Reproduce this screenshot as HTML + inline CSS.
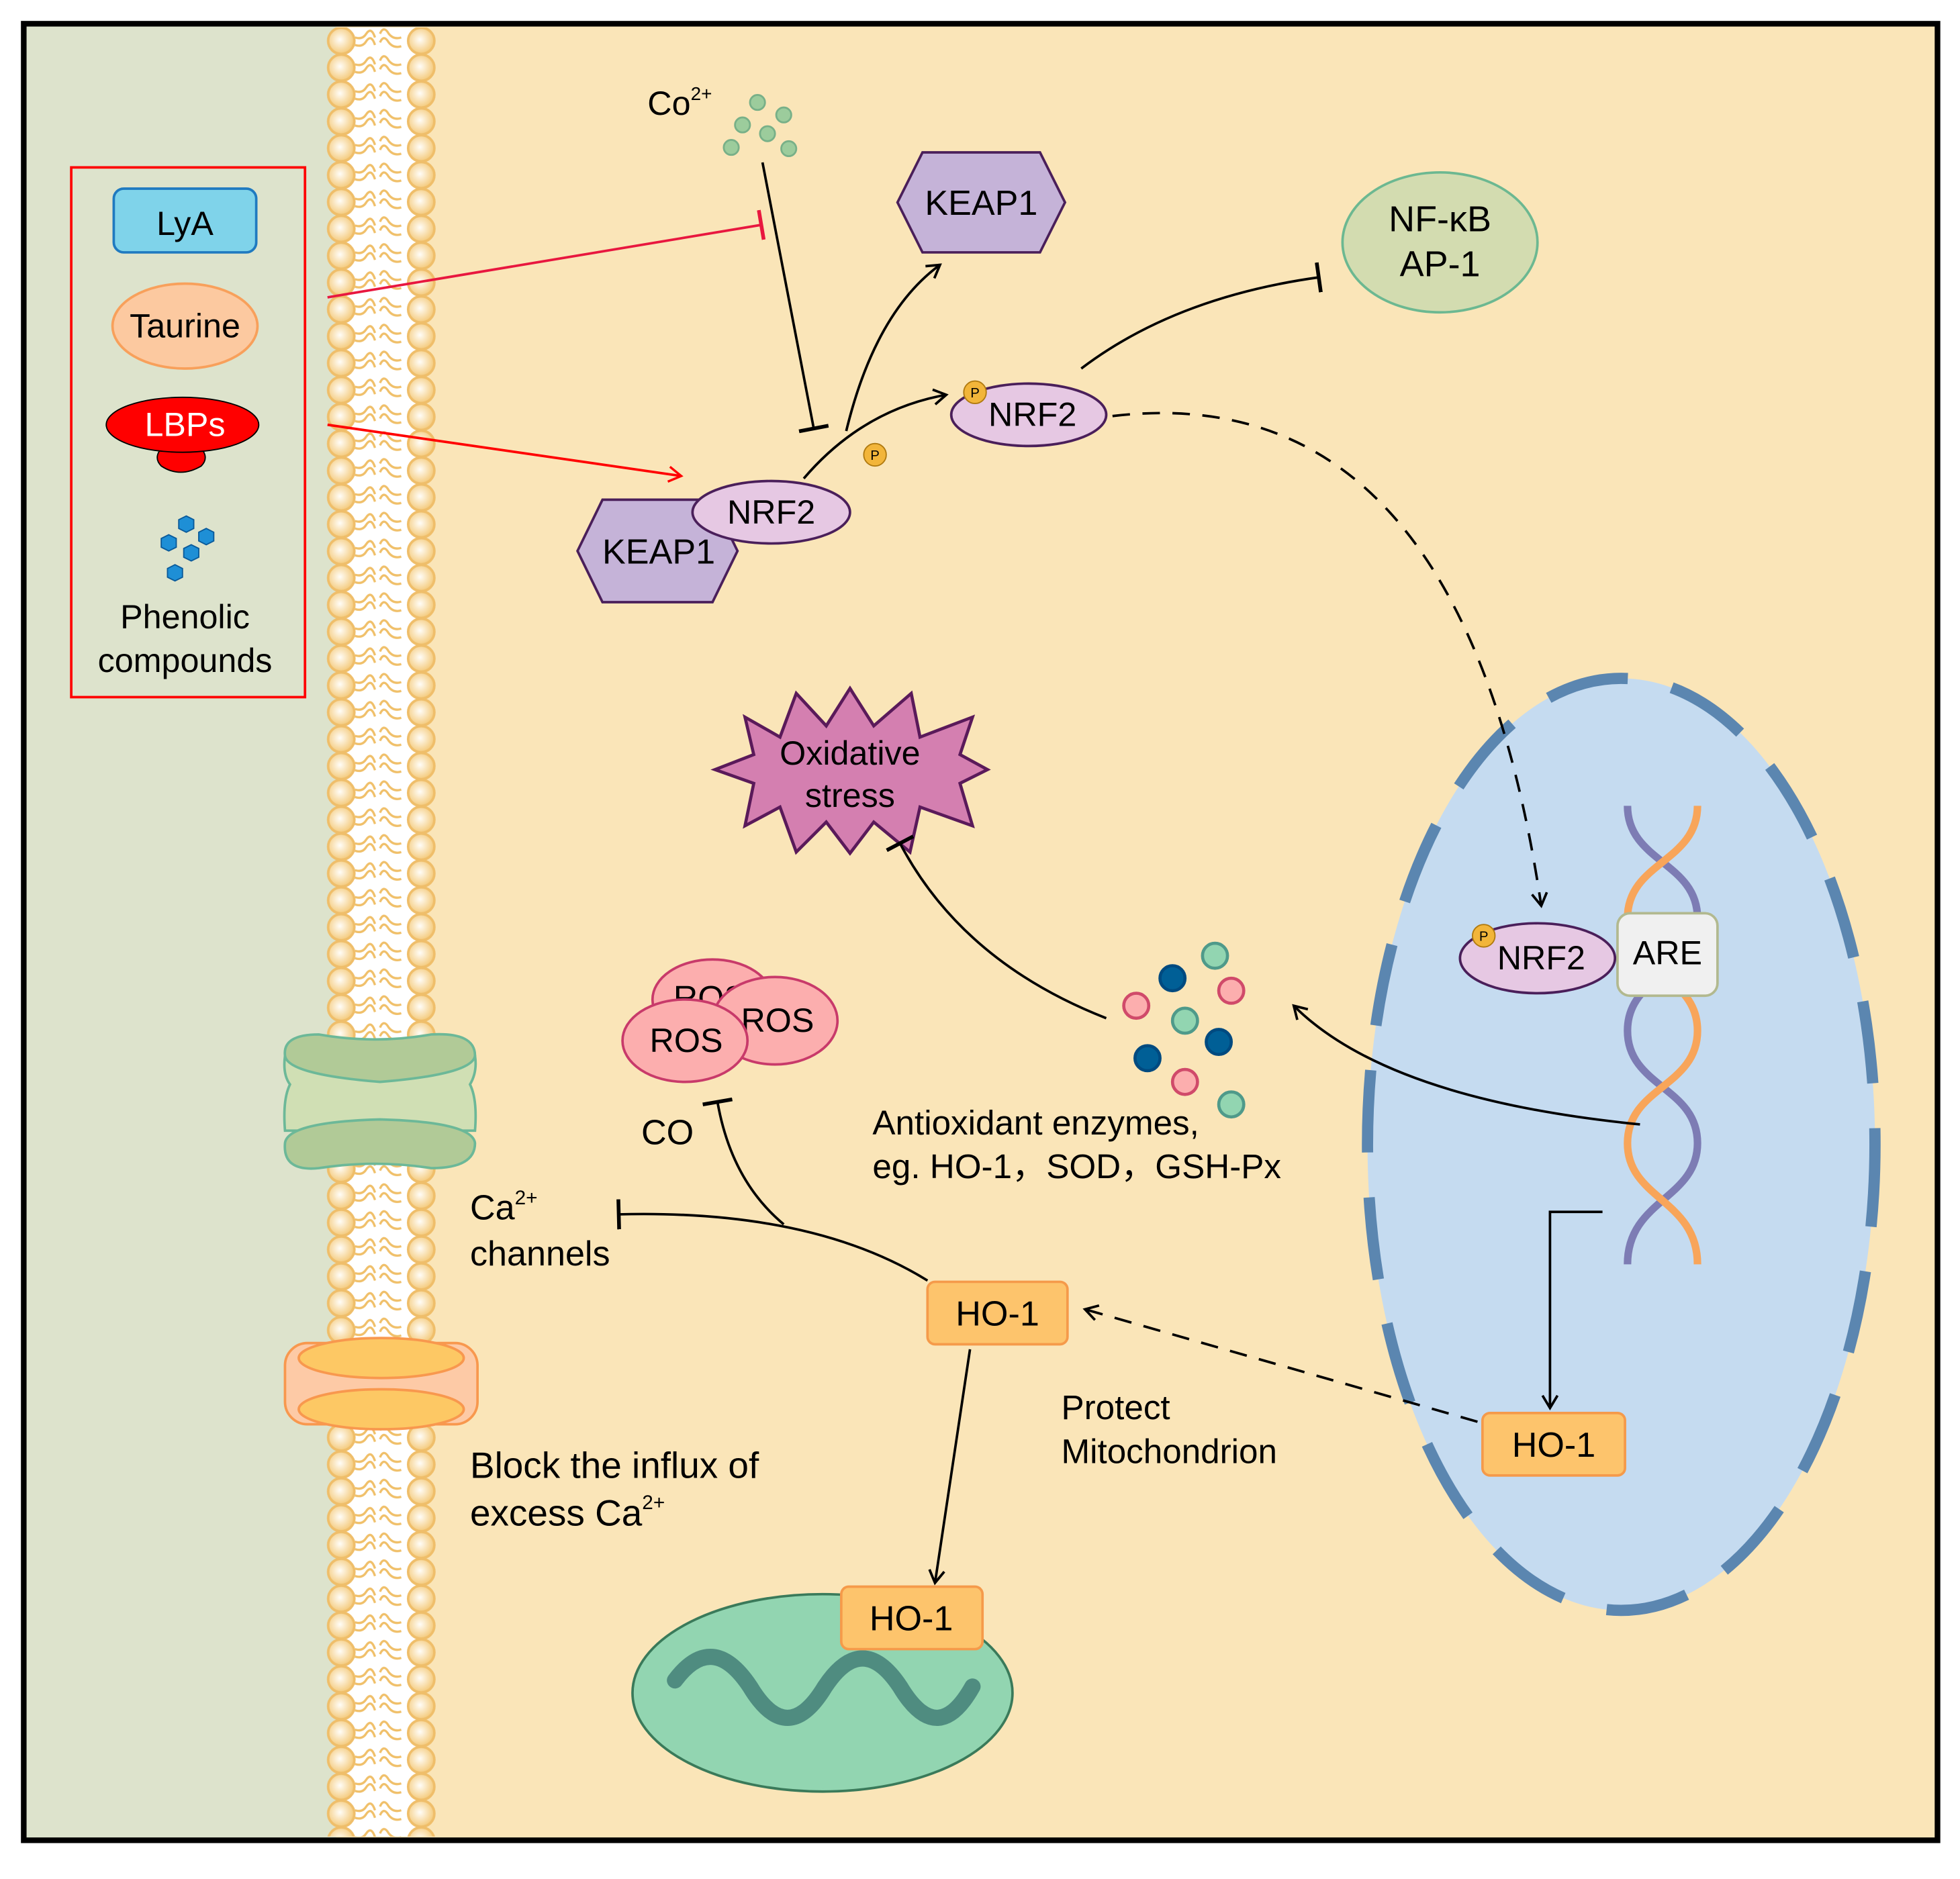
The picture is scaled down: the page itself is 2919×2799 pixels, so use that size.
<!DOCTYPE html>
<html><head><meta charset="utf-8"><style>
html,body{margin:0;padding:0;background:#fff}
svg{display:block}
text{font-family:"Liberation Sans","Noto Sans CJK SC",sans-serif;fill:#000}
</style></head><body>
<svg width="2919" height="2799" viewBox="0 0 1568 1504" preserveAspectRatio="none" xmlns="http://www.w3.org/2000/svg">
<defs>
<radialGradient id="hg" cx="0.45" cy="0.45" r="0.6"><stop offset="0" stop-color="#fffdf8"/><stop offset="1" stop-color="#f3c56f"/></radialGradient>
<pattern id="mem" x="255" y="22" width="96" height="21.5" patternUnits="userSpaceOnUse">
<rect x="14" y="0" width="66" height="21.5" fill="#fff"/>
<path d="M29,8 q6,2 9,-3 q4,-6 7,3 M49,5 q3,-7 7,0 q4,5 10,3 M29,14 q6,2 9,-3 q4,-6 7,3 M49,12 q3,-7 7,0 q4,5 10,3" fill="none" stroke="#f0c06a" stroke-width="1.8"/>
<circle cx="18" cy="10.7" r="10.5" fill="url(#hg)" stroke="#efbe6a" stroke-width="2"/>
<circle cx="82" cy="10.7" r="10.5" fill="url(#hg)" stroke="#efbe6a" stroke-width="2"/>
</pattern>
<marker id="oa" markerWidth="14" markerHeight="14" refX="11" refY="7" orient="auto" markerUnits="userSpaceOnUse"><path d="M1,1 L11,7 L1,13" fill="none" stroke="#000" stroke-width="2"/></marker>
<marker id="ra" markerWidth="14" markerHeight="14" refX="11" refY="7" orient="auto" markerUnits="userSpaceOnUse"><path d="M1,1 L11,7 L1,13" fill="none" stroke="#f00" stroke-width="1.8"/></marker>
<marker id="ib" markerWidth="4" markerHeight="24" refX="2" refY="12" orient="auto" markerUnits="userSpaceOnUse"><path d="M2,0 L2,24" stroke="#000" stroke-width="3"/></marker>
<marker id="rib" markerWidth="4" markerHeight="24" refX="2" refY="12" orient="auto" markerUnits="userSpaceOnUse"><path d="M2,0 L2,24" stroke="#e8173f" stroke-width="3"/></marker>
</defs>
<rect x="0" y="0" width="1568" height="1504" fill="#fff"/>
<rect x="19" y="19" width="1531" height="1454" fill="#fae5b8"/>
<rect x="19" y="19" width="250" height="1454" fill="#dde3cc"/>
<rect x="255" y="22" width="96" height="1448" fill="url(#mem)"/>
<rect x="19" y="19" width="1531" height="1454" fill="none" stroke="#000" stroke-width="4.5"/>

<rect x="57" y="134" width="187" height="424" fill="none" stroke="#f00" stroke-width="2"/>
<rect x="91" y="151" width="114" height="51" rx="8" fill="#7fd3ea" stroke="#1f7ac0" stroke-width="2"/>
<text x="148" y="188" font-size="27" text-anchor="middle">LyA</text>
<ellipse cx="148" cy="261" rx="58" ry="34" fill="#fcc9a0" stroke="#f8a05b" stroke-width="2"/>
<text x="148" y="270" font-size="27" text-anchor="middle">Taurine</text>
<path d="M133,355 q-12,10 -4,18 q15,10 32,0 q8,-8 -4,-18z" fill="#f00" stroke="#000" stroke-width="1"/>
<ellipse cx="146" cy="340" rx="61" ry="22" fill="#f00" stroke="#000" stroke-width="1"/>
<text x="148" y="349" font-size="27" text-anchor="middle" style="fill:#fff">LBPs</text>
<g fill="#1e8fd6" stroke="#0a5a9a" stroke-width="1">
<polygon points="149,413 155,416 155,423 149,426 143,423 143,416"/>
<polygon points="165,423 171,426 171,433 165,436 159,433 159,426"/>
<polygon points="135,428 141,431 141,438 135,441 129,438 129,431"/>
<polygon points="153,436 159,439 159,446 153,449 147,446 147,439"/>
<polygon points="140,452 146,455 146,462 140,465 134,462 134,455"/>
</g>
<text x="148" y="503" font-size="27" text-anchor="middle">Phenolic</text>
<text x="148" y="538" font-size="27" text-anchor="middle">compounds</text>

<line x1="262" y1="238" x2="609" y2="180" stroke="#e8173f" stroke-width="2" marker-end="url(#rib)"/>
<line x1="262" y1="340" x2="545" y2="381" stroke="#f00" stroke-width="2" marker-end="url(#ra)"/>

<text x="518" y="92" font-size="27">Co<tspan font-size="15" dy="-12">2+</tspan></text>
<g fill="#9ccc9c" stroke="#78b088" stroke-width="1.5">
<circle cx="606" cy="82" r="6"/><circle cx="594" cy="100" r="6"/><circle cx="627" cy="92" r="6"/><circle cx="614" cy="107" r="6"/><circle cx="585" cy="118" r="6"/><circle cx="631" cy="119" r="6"/>
</g>
<line x1="610" y1="130" x2="651" y2="343" stroke="#000" stroke-width="2" marker-end="url(#ib)"/>

<polygon points="738,122 832,122 852,162 832,202 738,202 718,162" fill="#c5b3d8" stroke="#4a1f5a" stroke-width="2"/>
<text x="785" y="172" font-size="28" text-anchor="middle">KEAP1</text>
<path d="M677,345 Q700,250 752,212" fill="none" stroke="#000" stroke-width="2" marker-end="url(#oa)"/>
<path d="M643,383 Q690,328 757,316" fill="none" stroke="#000" stroke-width="2" marker-end="url(#oa)"/>
<circle cx="700" cy="364" r="9" fill="#f2b53a" stroke="#b07a10" stroke-width="1"/>
<text x="700" y="368" font-size="11" text-anchor="middle">P</text>

<polygon points="482,400 570,400 590,441 570,482 482,482 462,441" fill="#c5b3d8" stroke="#4a1f5a" stroke-width="2"/>
<text x="527" y="451" font-size="28" text-anchor="middle">KEAP1</text>
<ellipse cx="617" cy="410" rx="63" ry="25" fill="#e6c8e3" stroke="#4a1f5a" stroke-width="2"/>
<text x="617" y="419" font-size="27" text-anchor="middle">NRF2</text>

<ellipse cx="823" cy="332" rx="62" ry="25" fill="#e6c8e3" stroke="#4a1f5a" stroke-width="2"/>
<text x="826" y="341" font-size="27" text-anchor="middle">NRF2</text>
<circle cx="780" cy="314" r="9" fill="#f2b53a" stroke="#b07a10" stroke-width="1"/>
<text x="780" y="318" font-size="11" text-anchor="middle">P</text>

<path d="M865,295 Q940,238 1055,222" fill="none" stroke="#000" stroke-width="2" marker-end="url(#ib)"/>
<ellipse cx="1152" cy="194" rx="78" ry="56" fill="#d3dcb0" stroke="#6cb891" stroke-width="2"/>
<text x="1152" y="185" font-size="29" text-anchor="middle">NF-κB</text>
<text x="1152" y="221" font-size="29" text-anchor="middle">AP-1</text>

<ellipse cx="1297" cy="916" rx="203" ry="373" fill="#c5dbf0" stroke="#5b86b0" stroke-width="9" stroke-dasharray="66,36"/>
<path d="M890,333 Q1170,300 1233,725" fill="none" stroke="#000" stroke-width="2" stroke-dasharray="14,10" marker-end="url(#oa)"/>

<path d="M1302,645 C1302,690 1358,690 1358,735 C1358,780 1302,780 1302,825 C1302,870 1358,870 1358,915 C1358,960 1302,960 1302,1012" fill="none" stroke="#7d7cb4" stroke-width="6"/>
<path d="M1358,645 C1358,690 1302,690 1302,735 C1302,780 1358,780 1358,825 C1358,870 1302,870 1302,915 C1302,960 1358,960 1358,1012" fill="none" stroke="#f8a55a" stroke-width="6"/>
<ellipse cx="1230" cy="767" rx="62" ry="28" fill="#e6c8e3" stroke="#4a1f5a" stroke-width="2"/>
<text x="1233" y="776" font-size="27" text-anchor="middle">NRF2</text>
<circle cx="1187" cy="749" r="9" fill="#f2b53a" stroke="#b07a10" stroke-width="1"/>
<text x="1187" y="753" font-size="11" text-anchor="middle">P</text>
<rect x="1294" y="731" width="80" height="66" rx="10" fill="#f0f0f0" stroke="#b2b98f" stroke-width="2"/>
<text x="1334" y="772" font-size="27" text-anchor="middle">ARE</text>

<polygon points="680,551 699,581 729,555 736,590 778,574 768,604 790,616 768,627 778,661 736,646 728,682 699,658 680,683 661,658 637,682 624,646 596,661 603,627 572,616 603,604 596,574 624,590 637,555 661,581" fill="#d47fb0" stroke="#5a1a5a" stroke-width="2.5"/>
<text x="680" y="612" font-size="27" text-anchor="middle">Oxidative</text>
<text x="680" y="646" font-size="27" text-anchor="middle">stress</text>
<path d="M885,815 Q770,770 720,675" fill="none" stroke="#000" stroke-width="2" marker-end="url(#ib)"/>
<path d="M1312,900 Q1110,880 1035,805" fill="none" stroke="#000" stroke-width="2" marker-end="url(#oa)"/>

<g stroke-width="2.5">
<circle cx="938" cy="783" r="10" fill="#005f96" stroke="#004a80"/>
<circle cx="975" cy="834" r="10" fill="#005f96" stroke="#004a80"/>
<circle cx="918" cy="847" r="10" fill="#005f96" stroke="#004a80"/>
<circle cx="972" cy="765" r="10" fill="#92d5b1" stroke="#4f9a8a"/>
<circle cx="948" cy="817" r="10" fill="#92d5b1" stroke="#4f9a8a"/>
<circle cx="985" cy="884" r="10" fill="#92d5b1" stroke="#4f9a8a"/>
<circle cx="909" cy="805" r="10" fill="#fcaeae" stroke="#d04a6a"/>
<circle cx="985" cy="793" r="10" fill="#fcaeae" stroke="#d04a6a"/>
<circle cx="948" cy="866" r="10" fill="#fcaeae" stroke="#d04a6a"/>
</g>
<text x="698" y="908" font-size="27.5">Antioxidant enzymes,</text>
<text x="698" y="943" font-size="27.5">eg. HO-1，SOD，GSH-Px</text>

<ellipse cx="570" cy="800" rx="48" ry="32" fill="#fcaeae" stroke="#c83a6a" stroke-width="2"/>
<text x="568" y="808" font-size="27" text-anchor="middle">ROS</text>
<ellipse cx="620" cy="817" rx="50" ry="35" fill="#fcaeae" stroke="#c83a6a" stroke-width="2"/>
<text x="622" y="826" font-size="27" text-anchor="middle">ROS</text>
<ellipse cx="548" cy="833" rx="50" ry="33" fill="#fcaeae" stroke="#c83a6a" stroke-width="2"/>
<text x="549" y="842" font-size="27" text-anchor="middle">ROS</text>
<text x="513" y="916" font-size="28">CO</text>
<path d="M627,980 Q585,945 574,882" fill="none" stroke="#000" stroke-width="2" marker-end="url(#ib)"/>

<text x="376" y="976" font-size="28">Ca<tspan font-size="16" dy="-12">2+</tspan></text>
<text x="376" y="1013" font-size="28">channels</text>
<path d="M742,1025 Q650,968 495,972" fill="none" stroke="#000" stroke-width="2" marker-end="url(#ib)"/>

<path d="M228,845 Q226,860 232,868 Q226,880 228,905 L380,905 Q382,880 376,868 Q382,858 380,845 Z" fill="#d0dfb4" stroke="#6cb898" stroke-width="2"/>
<path d="M228,845 Q226,828 255,828 Q300,836 345,828 Q380,826 380,845 Q378,860 304,866 Q230,860 228,845 Z" fill="#b1ca97" stroke="#6cb898" stroke-width="2"/>
<path d="M228,915 Q230,898 304,896 Q378,898 380,915 Q380,935 345,935 Q300,928 255,935 Q226,938 228,915 Z" fill="#b1ca97" stroke="#6cb898" stroke-width="2"/>
<rect x="228" y="1075" width="154" height="65" rx="18" fill="#fdcaa6" stroke="#f8984e" stroke-width="2"/>
<ellipse cx="305" cy="1087" rx="66" ry="16" fill="#fdc864" stroke="#f8984e" stroke-width="2"/>
<ellipse cx="305" cy="1128" rx="66" ry="16" fill="#fdc864" stroke="#f8984e" stroke-width="2"/>
<text x="376" y="1183" font-size="29.5">Block the influx of</text>
<text x="376" y="1221" font-size="29.5">excess Ca<tspan font-size="16" dy="-13">2+</tspan></text>

<rect x="742" y="1026" width="112" height="50" rx="6" fill="#fdc46c" stroke="#f59a4a" stroke-width="2"/>
<text x="798" y="1061" font-size="28" text-anchor="middle">HO-1</text>
<path d="M1182,1138 L868,1048" fill="none" stroke="#000" stroke-width="2" stroke-dasharray="14,10" marker-end="url(#oa)"/>
<path d="M1282,970 L1240,970 L1240,1127" fill="none" stroke="#000" stroke-width="2" marker-end="url(#oa)"/>
<rect x="1186" y="1131" width="114" height="50" rx="6" fill="#fdc46c" stroke="#f59a4a" stroke-width="2"/>
<text x="1243" y="1166" font-size="28" text-anchor="middle">HO-1</text>
<text x="849" y="1136" font-size="27.5">Protect</text>
<text x="849" y="1171" font-size="27.5">Mitochondrion</text>
<line x1="776" y1="1080" x2="748" y2="1267" stroke="#000" stroke-width="2" marker-end="url(#oa)"/>

<ellipse cx="658" cy="1355" rx="152" ry="79" fill="#92d5b1" stroke="#3a7a5a" stroke-width="2"/>
<path d="M540,1345 Q570,1305 600,1350 Q630,1400 660,1350 Q690,1305 720,1350 Q750,1400 778,1350" fill="none" stroke="#4f8c80" stroke-width="13" stroke-linecap="round"/>
<rect x="673" y="1270" width="113" height="50" rx="6" fill="#fdc46c" stroke="#f59a4a" stroke-width="2"/>
<text x="729" y="1305" font-size="28" text-anchor="middle">HO-1</text>
</svg>
</body></html>
